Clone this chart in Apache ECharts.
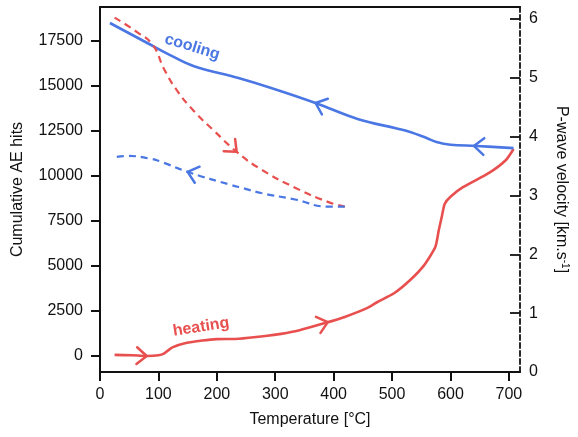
<!DOCTYPE html>
<html>
<head>
<meta charset="utf-8">
<script src="https://cdn.jsdelivr.net/npm/echarts@6/dist/echarts.min.js"></script>
<style>
html,body{margin:0;padding:0;background:#fff;}
#c{width:578px;height:437px;}
</style>
</head>
<body>
<div id="c"></div>
<script>
// ---- data ----
var xTicks = [0, 100, 200, 300, 400, 500, 600, 700];
var aeTicks = [0, 2500, 5000, 7500, 10000, 12500, 15000, 17500];
var vpTicks = [0, 1, 2, 3, 4, 5, 6];

// heating: cumulative AE hits [T, hits]
var heatingAE = [[25,60],[55,40],[80,0],[100,40],[110,150],[124,480],[147,720],[175,860],[200,940],[238,960],[283,1110],[310,1230],[340,1420],[385,1830],[419,2170],[458,2670],[475,3000],[504,3500],[531,4220],[555,5050],[574,6050],[580,7000],[585,7720],[590,8450],[600,8850],[622,9390],[666,10170],[695,10890],[708,11500]];
// cooling: cumulative AE hits [T, hits]
var coolingAE = [[708,11550],[644,11670],[600,11740],[576,11890],[560,12100],[531,12450],[508,12640],[441,13170],[369,14055],[293,14890],[237,15444],[161,16100],[120,16720],[81,17389],[17,18500]];
// heating: P-wave velocity [T, km/s]
var heatingVp = [[25,6.02],[64,5.77],[90,5.56],[110,5.14],[132,4.78],[161,4.43],[195,4.10],[234,3.74],[276,3.44],[334,3.13],[390,2.89],[419,2.81]];
// cooling: P-wave velocity [T, km/s]
var coolingVp = [[419,2.81],[390,2.81],[334,2.93],[276,3.04],[246,3.12],[220,3.19],[156,3.38],[102,3.58],[88,3.62],[47,3.67],[22,3.64]];

// direction arrows: [tipT, tipValue, backT, backValue, colorIndex]
var arrowsAE = [[80,0,50,40,0],[390,1880,340,1420,0],[369,14055,441,13170,1],[640,11670,708,11550,1]];
var arrowsVp = [[234,3.74,195,4.10,0],[150,3.40,220,3.19,1]];

// curve labels: [T, value]
var heatingLabelPos = [173, 1611];
var coolingLabelPos = [158, 17167];

var RED = '#e8504f';
var BLUE = '#4a77e3';
var FONT = 'Liberation Sans, Arial, Helvetica, sans-serif';
var colors = [RED, BLUE];

function arrowRender(params, api) {
  var tip = api.coord([api.value(0), api.value(1)]);
  var back = api.coord([api.value(2), api.value(3)]);
  var dx = back[0] - tip[0], dy = back[1] - tip[1];
  var len = Math.sqrt(dx*dx + dy*dy) || 1;
  dx /= len; dy /= len;
  var a = 40 * Math.PI / 180, L = 13;
  function rot(ang){
    return [tip[0] + L*(dx*Math.cos(ang) - dy*Math.sin(ang)),
            tip[1] + L*(dx*Math.sin(ang) + dy*Math.cos(ang))];
  }
  return {
    type: 'polyline',
    shape: { points: [rot(a), tip, rot(-a)] },
    style: { stroke: colors[api.value(4)], lineWidth: 2.5, fill: null, lineCap: 'round', lineJoin: 'round' }
  };
}

var chart = echarts.init(document.getElementById('c'));
var axisText = { fontFamily: FONT, fontSize: 16, color: '#111' };
function plain(v){ return String(v); }

chart.setOption({
  animation: false,
  backgroundColor: '#fff',
  grid: { left: 100, right: 54, top: 7, bottom: 65 },
  xAxis: [{
    type: 'value', min: 0, max: 719, position: 'bottom',
    name: 'Temperature [°C]', nameLocation: 'middle', nameGap: 40,
    nameTextStyle: axisText,
    axisLine: { show: true, onZero: false, lineStyle: { color: '#111', width: 2 } },
    axisTick: { show: true, length: 9, inside: false, customValues: xTicks, lineStyle: { color: '#111', width: 2 } },
    axisLabel: { customValues: xTicks, formatter: plain, margin: 15, fontFamily: FONT, fontSize: 16, color: '#111' },
    splitLine: { show: false }
  }, {
    type: 'value', min: 0, max: 719, position: 'top',
    axisLine: { show: true, onZero: false, lineStyle: { color: '#111', width: 2 } },
    axisTick: { show: false }, axisLabel: { show: false }, splitLine: { show: false }
  }],
  yAxis: [{
    type: 'value', min: -889, max: 19389, position: 'left',
    name: 'Cumulative AE hits', nameLocation: 'middle', nameGap: 74,
    nameTextStyle: axisText,
    axisLine: { show: true, onZero: false, lineStyle: { color: '#111', width: 2 } },
    axisTick: { show: true, length: 9, customValues: aeTicks, lineStyle: { color: '#111', width: 2 } },
    axisLabel: { customValues: aeTicks, formatter: plain, margin: 17, fontFamily: FONT, fontSize: 16, color: '#111' },
    splitLine: { show: false }
  }, {
    type: 'value', min: 0, max: 6.2, position: 'right',
    name: '{n|P-wave velocity [km.s}{sup|-1}{n|]}', nameLocation: 'middle', nameGap: 32, nameRotate: -90,
    nameTextStyle: { fontFamily: FONT, fontSize: 16, color: '#111',
      rich: { n: { fontFamily: FONT, fontSize: 16, color: '#111', lineHeight: 18 },
              sup: { fontFamily: FONT, fontSize: 10, color: '#111', lineHeight: 10, verticalAlign: 'top' } } },
    axisLine: { show: true, onZero: false, lineStyle: { color: '#111', width: 1.8, type: [5, 3] } },
    axisTick: { show: true, inside: true, length: 10, customValues: vpTicks, lineStyle: { color: '#111', width: 1.8 } },
    axisLabel: { customValues: vpTicks, formatter: plain, margin: 9, fontFamily: FONT, fontSize: 16, color: '#111' },
    splitLine: { show: false }
  }],
  series: [{
    name: 'heating AE', type: 'line', xAxisIndex: 0, yAxisIndex: 0, data: heatingAE,
    showSymbol: false, smooth: 0.2, lineStyle: { color: RED, width: 2.6 }, itemStyle: { color: RED },
    markPoint: { symbol: 'circle', symbolSize: 0, silent: true,
      data: [{ coord: heatingLabelPos, label: { show: true, formatter: 'heating', position: 'inside', rotate: 9,
        fontFamily: FONT, fontSize: 16, fontWeight: 'bold', color: RED } }] }
  }, {
    name: 'cooling AE', type: 'line', xAxisIndex: 0, yAxisIndex: 0, data: coolingAE,
    showSymbol: false, smooth: 0.4, lineStyle: { color: BLUE, width: 2.6 }, itemStyle: { color: BLUE },
    markPoint: { symbol: 'circle', symbolSize: 0, silent: true,
      data: [{ coord: coolingLabelPos, label: { show: true, formatter: 'cooling', position: 'inside', rotate: -17,
        fontFamily: FONT, fontSize: 16, fontWeight: 'bold', color: BLUE } }] }
  }, {
    name: 'heating Vp', type: 'line', xAxisIndex: 0, yAxisIndex: 1, data: heatingVp,
    showSymbol: false, smooth: 0.5, lineStyle: { color: RED, width: 2.2, type: [7, 5] }, itemStyle: { color: RED }
  }, {
    name: 'cooling Vp', type: 'line', xAxisIndex: 0, yAxisIndex: 1, data: coolingVp,
    showSymbol: false, smooth: 0.5, lineStyle: { color: BLUE, width: 2.2, type: [7, 5] }, itemStyle: { color: BLUE }
  }, {
    type: 'custom', xAxisIndex: 0, yAxisIndex: 0, data: arrowsAE, renderItem: arrowRender, silent: true
  }, {
    type: 'custom', xAxisIndex: 0, yAxisIndex: 1, data: arrowsVp, renderItem: arrowRender, silent: true
  }]
});
</script>
</body>
</html>
